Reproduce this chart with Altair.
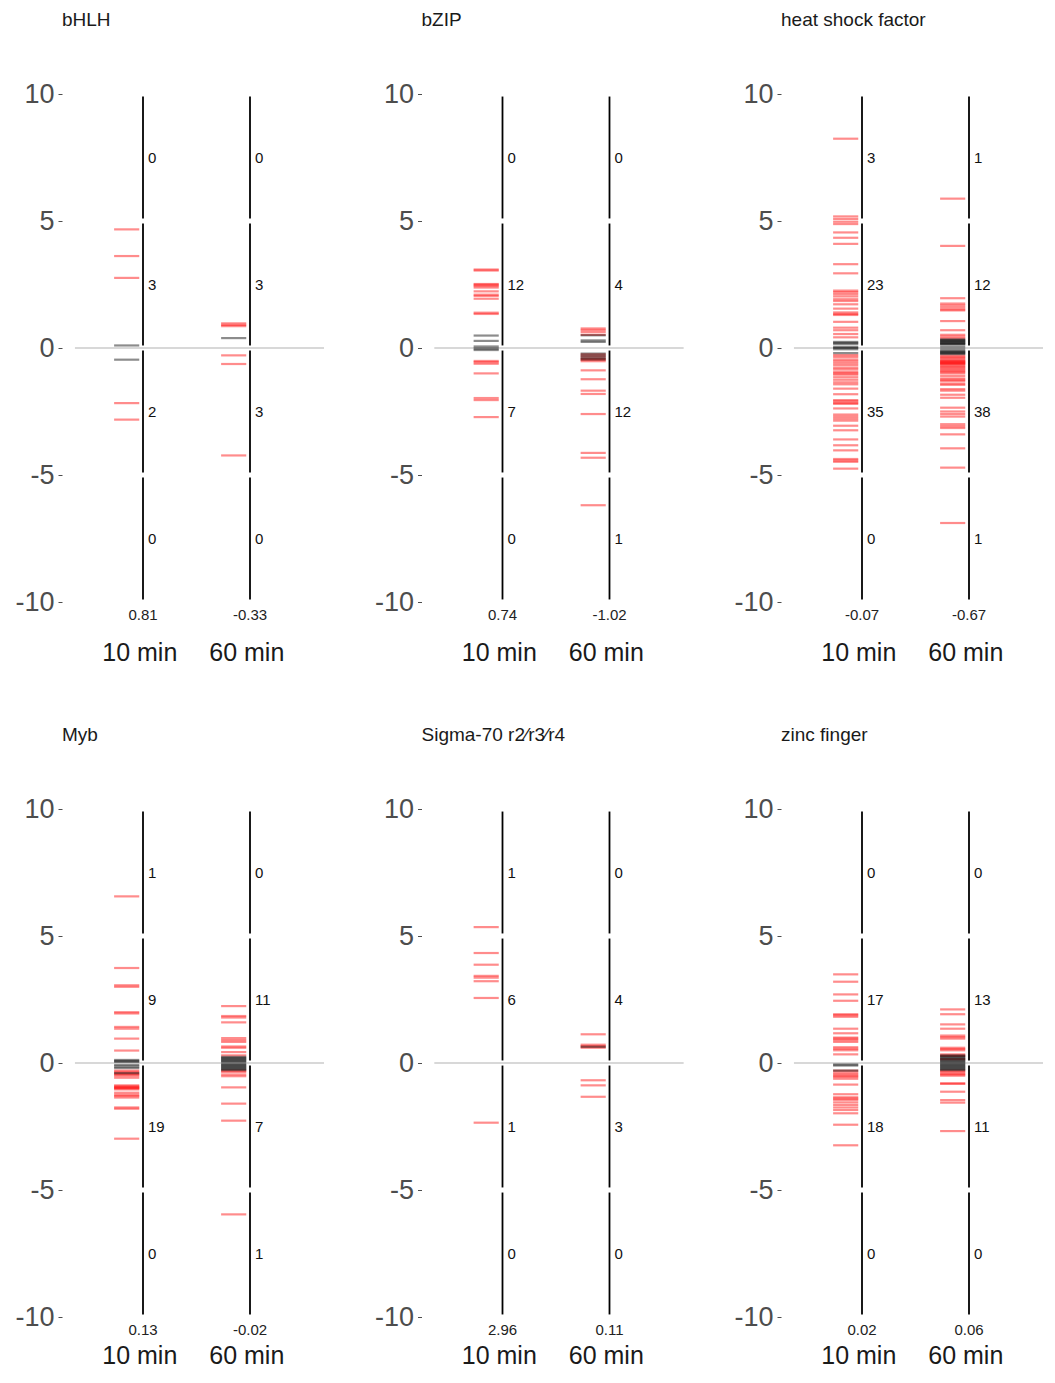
import altair as alt
import pandas as pd

FONT = "Liberation Sans"

FAMILIES = ["bHLH", "bZIP", "heat shock factor", "Myb", "Sigma-70 r2\u2044r3\u2044r4", "zinc finger"]
TIMES = ["10 min", "60 min"]
TIME_POS = [1, 2]
BIN_EDGES = [-10, -5, 0, 5, 10]
BIN_MIDS = [7.5, 2.5, -2.5, -7.5]

# ---- tick values (log fold change), red = counted, ns = grey ----
BHLH_10_RED = [4.67, 3.62, 2.76, -2.17, -2.82]
BHLH_10_NS = [0.10, -0.46]
BHLH_60_RED = [0.97, 0.91, 0.86, -0.29, -0.63, -4.23]
BHLH_60_NS = [0.39]

BZIP_10_RED = [3.09, 3.05, 2.52, 2.49, 2.44, 2.38, 2.23, 2.10, 2.05, 1.94, 1.39, 1.34,
               -0.51, -0.56, -0.62, -1.00, -1.97, -2.05, -2.72]
BZIP_10_NS = [0.49, 0.28, 0.06, -0.02, -0.08]
BZIP_60_RED = [0.77, 0.71, 0.63, 0.52,
               -0.25, -0.33, -0.42, -0.46, -0.52, -0.88, -1.23, -1.68, -1.81, -2.60, -4.13, -4.32,
               -6.19]
BZIP_60_NS = [0.50, 0.30, 0.24, -0.22, -0.30, -0.38, -0.45]

HSF_10_RED = [8.24, 5.18, 5.08,
              4.97, 4.88, 4.55, 4.34, 4.10, 3.30, 2.94, 2.26, 2.20, 2.12, 2.03, 1.92, 1.85, 1.72,
              1.55, 1.40, 1.34, 1.30, 1.03, 0.80, 0.70, 0.55, 0.42,
              -0.28, -0.35, -0.45, -0.52, -0.60, -0.68, -0.78, -0.85, -0.95, -1.00, -1.05, -1.15,
              -1.25, -1.35, -1.43, -1.60, -1.82, -2.05, -2.10, -2.16, -2.20, -2.38, -2.62, -2.70,
              -2.78, -2.86, -3.06, -3.24, -3.60, -3.83, -4.03, -4.37, -4.43, -4.48, -4.75]
HSF_10_NS = [0.24, 0.20, 0.15, 0.04, 0.00, -0.05, -0.20]
HSF_60_RED = [5.88,
              4.02, 1.96, 1.75, 1.68, 1.60, 1.52, 1.48, 1.06, 0.70, 0.52, 0.45, 0.38,
              -0.30, -0.35, -0.40, -0.45, -0.50, -0.52, -0.55, -0.58, -0.60, -0.62, -0.65, -0.70,
              -0.75, -0.80, -0.85, -0.90, -0.95, -1.00, -1.10, -1.20, -1.25, -1.30, -1.40, -1.45,
              -1.62, -1.68, -1.84, -1.96, -2.35, -2.50, -2.60, -2.70, -3.00, -3.08, -3.15, -3.40,
              -3.95, -4.71,
              -6.89]
HSF_60_NS = [0.34, 0.31, 0.28, 0.25, 0.22, 0.19, 0.16, 0.14, 0.05, -0.05,
             -0.12, -0.15, -0.18, -0.21, -0.24]

MYB_10_RED = [6.56,
              3.74, 3.06, 3.00, 2.00, 1.95, 1.42, 1.35, 0.96, 0.49,
              -0.30, -0.35, -0.42, -0.45, -0.50, -0.58, -0.88, -0.92, -0.95, -0.98, -1.00, -1.04,
              -1.17, -1.25, -1.30, -1.36, -1.75, -1.80, -2.98]
MYB_10_NS = [0.12, 0.08, 0.04, -0.08, -0.14, -0.20, -0.40]
MYB_60_RED = [2.24, 1.85, 1.79, 1.60, 0.98, 0.90, 0.83, 0.65, 0.60, 0.43, 0.30,
              -0.30, -0.35, -0.45, -0.52, -0.96, -1.60, -2.27,
              -5.96]
MYB_60_NS = [0.24, 0.20, 0.16, 0.12, 0.08, 0.04, -0.04, -0.08, -0.12, -0.16, -0.20, -0.24, -0.28]

SIG_10_RED = [5.35, 4.33, 3.87, 3.43, 3.36, 3.22, 2.56, -2.35]
SIG_10_NS = []
SIG_60_RED = [1.13, 0.72, 0.66, 0.60, -0.68, -0.88, -1.33]
SIG_60_NS = [0.64]

ZNF_10_RED = [3.49, 3.20, 2.70, 2.45, 1.92, 1.88, 1.82, 1.35, 1.17, 1.00, 0.96, 0.90, 0.83,
              0.62, 0.56, 0.50, 0.34,
              -0.30, -0.38, -0.45, -0.50, -0.55, -0.62, -0.85, -1.23, -1.35, -1.40, -1.45,
              -1.55, -1.65, -1.75, -1.85, -1.98, -2.43, -3.24]
ZNF_10_NS = [-0.06, -0.10, -0.30]
ZNF_60_RED = [2.11, 1.92, 1.52, 1.35, 1.08, 1.02, 0.96, 0.60, 0.55, 0.50, 0.34, 0.28, 0.15,
              -0.30, -0.35, -0.42, -0.45, -0.50, -0.80, -0.82, -1.13, -1.46, -1.56, -2.68]
ZNF_60_NS = [0.30, 0.26, 0.22, 0.18, 0.14, 0.10, 0.06, 0.02, -0.04, -0.08, -0.12, -0.16,
             -0.20, -0.24, -0.28]

# ---- counts per bin (top: 5..10, 0..5, -5..0, -10..-5) ----
BHLH_COUNTS = [[0, 3, 2, 0], [0, 3, 3, 0]]
BZIP_COUNTS = [[0, 12, 7, 0], [0, 4, 12, 1]]
HSF_COUNTS = [[3, 23, 35, 0], [1, 12, 38, 1]]
MYB_COUNTS = [[1, 9, 19, 0], [0, 11, 7, 1]]
SIG_COUNTS = [[1, 6, 1, 0], [0, 4, 3, 0]]
ZNF_COUNTS = [[0, 17, 18, 0], [0, 13, 11, 0]]

# ---- values printed under each line ----
BHLH_MEANS = [0.81, -0.33]
BZIP_MEANS = [0.74, -1.02]
HSF_MEANS = [-0.07, -0.67]
MYB_MEANS = [0.13, -0.02]
SIG_MEANS = [2.96, 0.11]
ZNF_MEANS = [0.02, 0.06]

PANELS = [
    (FAMILIES[0], BHLH_10_RED, BHLH_10_NS, BHLH_60_RED, BHLH_60_NS, BHLH_COUNTS, BHLH_MEANS),
    (FAMILIES[1], BZIP_10_RED, BZIP_10_NS, BZIP_60_RED, BZIP_60_NS, BZIP_COUNTS, BZIP_MEANS),
    (FAMILIES[2], HSF_10_RED, HSF_10_NS, HSF_60_RED, HSF_60_NS, HSF_COUNTS, HSF_MEANS),
    (FAMILIES[3], MYB_10_RED, MYB_10_NS, MYB_60_RED, MYB_60_NS, MYB_COUNTS, MYB_MEANS),
    (FAMILIES[4], SIG_10_RED, SIG_10_NS, SIG_60_RED, SIG_60_NS, SIG_COUNTS, SIG_MEANS),
    (FAMILIES[5], ZNF_10_RED, ZNF_10_NS, ZNF_60_RED, ZNF_60_NS, ZNF_COUNTS, ZNF_MEANS),
]

W, H = 262, 508
X_DOMAIN = [0.243, 0.243 + W / 107.0]
ZERO_START = 0.364
MINUS = "\u2212"


def panel(fam, r10, n10, r60, n60, counts, means, label_y):
    xs = alt.Scale(domain=X_DOMAIN, nice=False, zero=False)
    ys = alt.Scale(domain=[-10, 10], nice=False, zero=False)
    yaxis = alt.Axis(values=[-10, -5, 0, 5, 10], labelFontSize=27, labelColor="#4d4d4d",
                     labelFont=FONT, tickColor="#4d4d4d", tickSize=4, tickWidth=1,
                     labelPadding=4, domain=False, grid=False, title=None,
                     labelFlush=False, labelOverlap=False,
                     labelExpr="replace(datum.label, '" + MINUS + "', '-')")

    tick_rows = []
    for pos, red, ns in [(1, r10, n10), (2, r60, n60)]:
        for v in red:
            tick_rows.append({"pos": pos, "value": v, "kind": "sig"})
        for v in ns:
            tick_rows.append({"pos": pos, "value": v, "kind": "ns"})
    ticks_df = pd.DataFrame(tick_rows)

    seg_rows = []
    for pos in TIME_POS:
        for lo, hi in zip(BIN_EDGES[:-1], BIN_EDGES[1:]):
            seg_rows.append({"pos": pos, "lo": lo, "hi": hi})
    seg_df = pd.DataFrame(seg_rows)

    cnt_rows = []
    for pos, c in zip(TIME_POS, counts):
        for mid, n in zip(BIN_MIDS, c):
            cnt_rows.append({"pos": pos, "mid": mid, "n": str(n)})
    cnt_df = pd.DataFrame(cnt_rows)

    lab_df = pd.DataFrame({"pos": TIME_POS, "time": TIMES, "mean": means})

    zero = alt.Chart(lab_df).mark_rule(color="#d6d6d6", strokeWidth=1.3).encode(
        x=alt.XDatum(ZERO_START, type="quantitative", scale=xs, axis=None),
        x2=alt.X2Datum(X_DOMAIN[1]),
        y=alt.YDatum(0, type="quantitative", scale=ys, axis=yaxis),
    )

    segs = alt.Chart(seg_df).transform_calculate(
        y1="datum.lo + 0.1", y2="datum.hi - 0.1"
    ).mark_rule(color="black", strokeWidth=1.8).encode(
        x=alt.X("pos:Q", scale=xs, axis=None),
        y=alt.Y("y1:Q", scale=ys, axis=yaxis),
        y2="y2:Q",
    )

    ticks = alt.Chart(ticks_df).transform_calculate(
        xa="datum.pos - 0.27", xb="datum.pos - 0.035"
    ).mark_rule(strokeWidth=2.2, opacity=0.45).encode(
        x=alt.X("xa:Q", scale=xs, axis=None),
        x2="xb:Q",
        y=alt.Y("value:Q", scale=ys, axis=yaxis),
        color=alt.Color("kind:N", scale=alt.Scale(domain=["sig", "ns"], range=["#ff0000", "#000000"]),
                        legend=None),
    )

    cnt = alt.Chart(cnt_df).mark_text(align="left", baseline="middle", dx=5, fontSize=15,
                                      font=FONT, color="#111111").encode(
        x=alt.X("pos:Q", scale=xs, axis=None),
        y=alt.Y("mid:Q", scale=ys, axis=yaxis),
        text="n:N",
    )

    mean_txt = alt.Chart(lab_df).transform_calculate(
        mt="replace(format(datum.mean, '.2f'), '" + MINUS + "', '-')"
    ).mark_text(align="center", baseline="middle", fontSize=15,
                font=FONT, color="#222222").encode(
        x=alt.X("pos:Q", scale=xs, axis=None),
        y=alt.YDatum(-10.5, type="quantitative", scale=ys, axis=yaxis),
        text="mt:N",
    )

    time_txt = alt.Chart(lab_df).transform_calculate(
        xt="datum.pos - 0.03"
    ).mark_text(align="center", baseline="middle", fontSize=25, font=FONT,
                color="#1a1a1a").encode(
        x=alt.X("xt:Q", scale=xs, axis=None),
        y=alt.YDatum(label_y, type="quantitative", scale=ys, axis=yaxis),
        text="time:N",
    )

    return alt.layer(zero, segs, ticks, cnt, mean_txt, time_txt).properties(
        width=W, height=H,
        title=alt.TitleParams(text=fam, anchor="start", frame="group", fontSize=19,
                              fontWeight="normal", font=FONT, color="#1a1a1a", offset=50),
    )


charts = [panel(*p, -12.0) for p in PANELS[:3]] + [panel(*p, -11.55) for p in PANELS[3:]]
row1 = alt.hconcat(*charts[:3], spacing=48.5)
row2 = alt.hconcat(*charts[3:], spacing=48.5)
chart = alt.vconcat(row1, row2, spacing=60).properties(
    padding={"left": 6, "top": 3, "right": 0, "bottom": 0}
).configure_view(stroke=None)

chart.save("out.html", embed_options={"renderer": "svg", "actions": False})
